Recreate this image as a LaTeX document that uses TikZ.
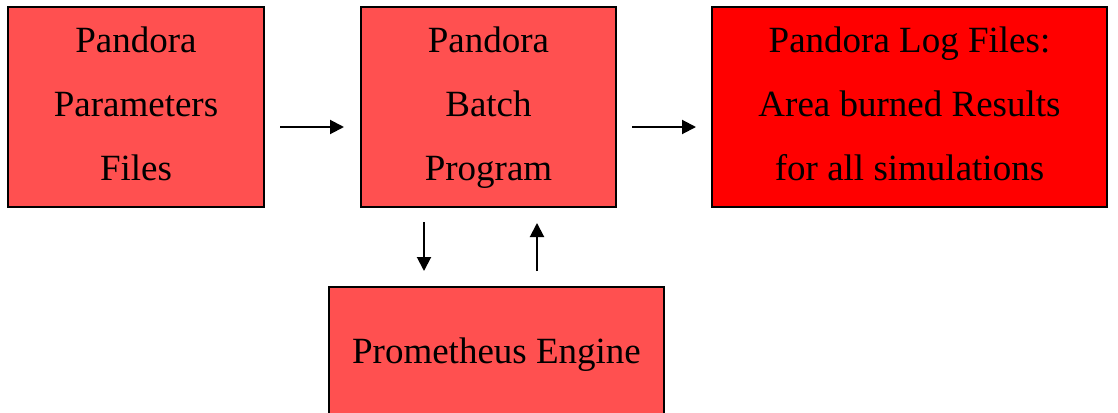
\documentclass[tikz,border=0pt]{standalone}
\usepackage{fontspec}
\setmainfont{Liberation Serif}
\usetikzlibrary{arrows.meta}
\definecolor{lightred}{HTML}{FF5050}
\definecolor{fullred}{HTML}{FF0000}
\newcommand{\vp}{\vphantom{Pg}}
\tikzset{
  box/.style={draw=black, line width=2pt, fill=lightred, align=center, inner sep=0pt,
    font=\fontsize{37}{64}\selectfont},
  boxtext/.style={align=center, inner sep=0pt, font=\fontsize{37}{64}\selectfont},
  conn/.style={line width=2pt, -{Triangle[length=14pt,width=14pt]}}
}
\begin{document}
\begin{tikzpicture}[x=1pt,y=-1pt]
\useasboundingbox (0,0) rectangle (1118,412);
\node[box, minimum width=256pt, minimum height=200pt] (b1) at (136,107) {};
\node[box, minimum width=255pt, minimum height=200pt] (b2) at (488.5,107) {};
\node[box, fill=fullred, minimum width=395pt, minimum height=200pt] (b3) at (909.5,107) {};
\node[box, minimum width=335pt, minimum height=130pt] (b4) at (496.5,352) {};
\node[boxtext] (t1) at ([yshift=-1pt]b1.center) {\vp Pandora\\Parameters\\Files\vp};
\node[boxtext] (t2) at ([yshift=-1pt]b2.center) {\vp Pandora\\Batch\\Program\vp};
\node[boxtext] (t3) at ([yshift=-1pt]b3.center) {\vp Pandora Log Files:\\Area burned Results\\for all simulations\vp};
\node[boxtext] (t4) at ([yshift=-3pt]b4.center) {\vp Prometheus Engine};
\coordinate (a1s) at (280,127);
\coordinate (a1e) at (344,127);
\coordinate (a2s) at (632,127);
\coordinate (a2e) at (696,127);
\coordinate (a3s) at (424,222);
\coordinate (a3e) at (424,271);
\coordinate (a4s) at (537,271);
\coordinate (a4e) at (537,223);
\draw[conn] (a1s) -- (a1e);
\draw[conn] (a2s) -- (a2e);
\draw[conn] (a3s) -- (a3e);
\draw[conn] (a4s) -- (a4e);
\end{tikzpicture}
\end{document}
